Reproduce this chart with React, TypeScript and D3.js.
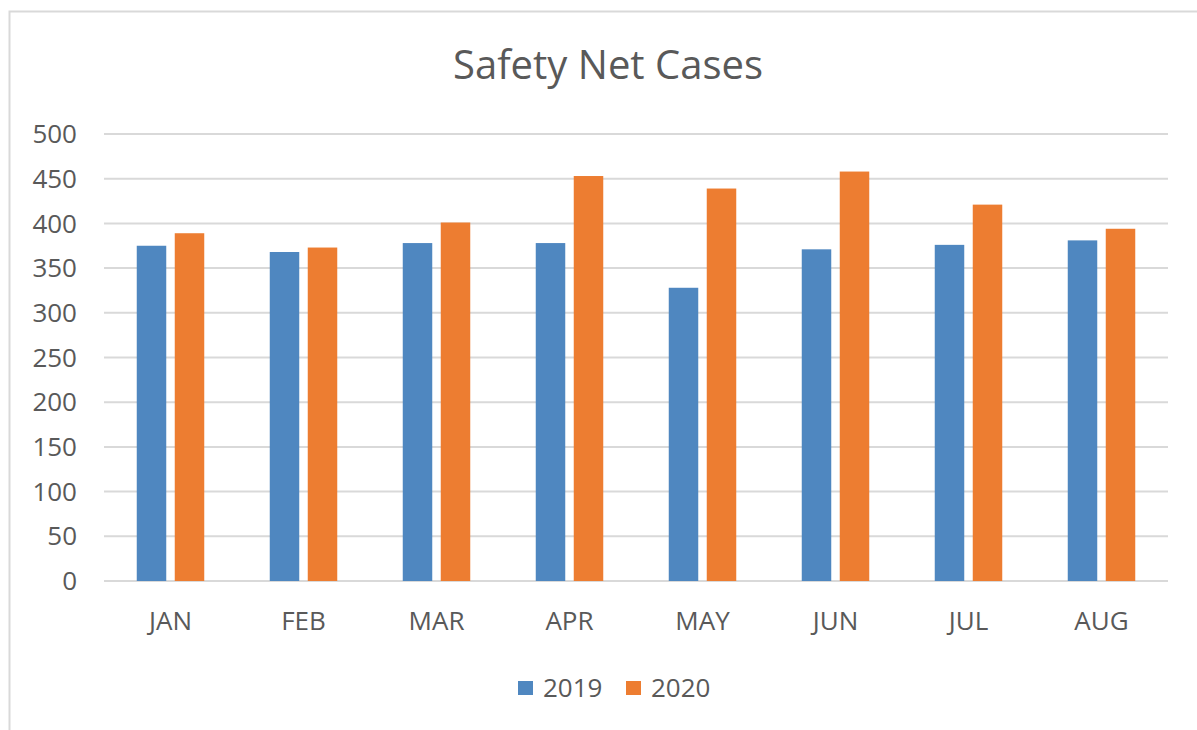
import { scaleBand, scaleLinear } from "d3";

const months = ["JAN", "FEB", "MAR", "APR", "MAY", "JUN", "JUL", "AUG"];
const series2019 = [375, 368, 378, 378, 328, 371, 376, 381];
const series2020 = [389, 373, 401, 453, 439, 458, 421, 394];
const yTicks = [0, 50, 100, 150, 200, 250, 300, 350, 400, 450, 500];
const seriesNames = ["2019", "2020"];

const BLUE = "#4f87c0";
const ORANGE = "#ed7d31";
const TEXT = "#595959";
const GRID = "#d9d9d9";
const FONT = "'Open Sans', 'Liberation Sans', sans-serif";

export default function App() {
    const width = 1197;
    const height = 730;
    const plot = { left: 104, right: 1168, top: 134, bottom: 581 };

    const x = scaleBand<string>()
        .domain(months)
        .range([plot.left, plot.right]);
    const y = scaleLinear().domain([0, 500]).range([plot.bottom, plot.top]);

    const barW = 29.5;
    const gap = 8.5;
    const seriesData = [series2019, series2020];
    const colors = [BLUE, ORANGE];

    return (
        <svg
            width={width}
            height={height}
            style={{ position: "absolute", left: 0, top: 0, background: "#fff" }}
            fontFamily={FONT}
        >
            <rect x={0} y={0} width={width} height={height} fill="#fff" />
            <rect
                x={9.5}
                y={11.5}
                width={width + 20}
                height={height + 20}
                fill="none"
                stroke={GRID}
                strokeWidth={2}
            />
            <text
                x={608}
                y={79}
                textAnchor="middle"
                fontSize={40}
                fill={TEXT}
            >
                Safety Net Cases
            </text>

            {yTicks.map((t) => (
                <g key={`tick-${t}`}>
                    <line
                        x1={plot.left}
                        x2={plot.right}
                        y1={y(t)}
                        y2={y(t)}
                        stroke={GRID}
                        strokeWidth={2}
                    />
                    <text
                        x={77}
                        y={y(t)}
                        dy="0.35em"
                        textAnchor="end"
                        fontSize={26}
                        fill={TEXT}
                    >
                        {t}
                    </text>
                </g>
            ))}

            {months.map((m, i) => {
                const cx = (x(m) ?? 0) + x.bandwidth() / 2;
                const groupW = barW * 2 + gap;
                return (
                    <g key={`grp-${m}`}>
                        {seriesData.map((s, j) => (
                            <rect
                                key={`bar-${m}-${j}`}
                                x={cx - groupW / 2 + j * (barW + gap)}
                                y={y(s[i])}
                                width={barW}
                                height={plot.bottom - y(s[i])}
                                fill={colors[j]}
                            />
                        ))}
                        <text
                            x={cx}
                            y={630}
                            textAnchor="middle"
                            fontSize={26}
                            fill={TEXT}
                        >
                            {m}
                        </text>
                    </g>
                );
            })}

            {seriesNames.map((name, j) => {
                const lx = 518 + j * 108;
                return (
                    <g key={`legend-${name}`}>
                        <rect x={lx} y={681} width={15} height={14} fill={colors[j]} />
                        <text x={lx + 25} y={697} fontSize={26} fill={TEXT}>
                            {name}
                        </text>
                    </g>
                );
            })}
        </svg>
    );
}
